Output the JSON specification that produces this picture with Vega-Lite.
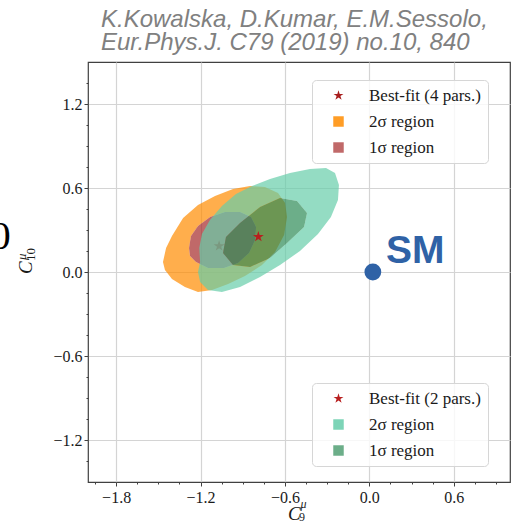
{
  "$schema": "https://vega.github.io/schema/vega-lite/v6.json",
  "width": 422,
  "height": 420,
  "autosize": {"type": "none"},
  "padding": {"left": 88, "top": 62, "right": 1, "bottom": 40},
  "config": {
    "view": {"stroke": "#404040", "strokeWidth": 1.2},
    "font": "Liberation Serif"
  },
  "title": {
    "text": ["K.Kowalska, D.Kumar, E.M.Sessolo,", "Eur.Phys.J. C79 (2019) no.10, 840"],
    "anchor": "start",
    "frame": "group",
    "dx": 13,
    "offset": 7,
    "font": "Liberation Sans",
    "fontStyle": "italic",
    "fontWeight": "normal",
    "fontSize": 24,
    "lineHeight": 23,
    "color": "#808080"
  },
  "datasets": {
    "poly": [
      {"p":"o2","i":0,"x":-1.467,"y":0.071},{"p":"o2","i":1,"x":-1.445,"y":0.171},{"p":"o2","i":2,"x":-1.403,"y":0.257},{"p":"o2","i":3,"x":-1.324,"y":0.386},{"p":"o2","i":4,"x":-1.218,"y":0.479},{"p":"o2","i":5,"x":-1.097,"y":0.543},{"p":"o2","i":6,"x":-0.969,"y":0.593},{"p":"o2","i":7,"x":-0.848,"y":0.614},{"p":"o2","i":8,"x":-0.742,"y":0.607},{"p":"o2","i":9,"x":-0.649,"y":0.564},{"p":"o2","i":10,"x":-0.599,"y":0.493},{"p":"o2","i":11,"x":-0.585,"y":0.393},{"p":"o2","i":12,"x":-0.606,"y":0.264},{"p":"o2","i":13,"x":-0.670,"y":0.143},{"p":"o2","i":14,"x":-0.763,"y":0.05},{"p":"o2","i":15,"x":-0.884,"y":-0.029},{"p":"o2","i":16,"x":-1.004,"y":-0.086},{"p":"o2","i":17,"x":-1.118,"y":-0.129},{"p":"o2","i":18,"x":-1.218,"y":-0.143},{"p":"o2","i":19,"x":-1.311,"y":-0.107},{"p":"o2","i":20,"x":-1.403,"y":-0.05},{"p":"o2","i":21,"x":-1.453,"y":0.014},{"p":"o2","i":22,"x":-1.467,"y":0.071},
      {"p":"o2","i":23,"x":-1.282,"y":0.171},{"p":"o2","i":24,"x":-1.275,"y":0.114},{"p":"o2","i":25,"x":-1.232,"y":0.071},{"p":"o2","i":26,"x":-1.147,"y":0.029},{"p":"o2","i":27,"x":-1.033,"y":0.029},{"p":"o2","i":28,"x":-0.933,"y":0.064},{"p":"o2","i":29,"x":-0.855,"y":0.136},{"p":"o2","i":30,"x":-0.812,"y":0.229},{"p":"o2","i":31,"x":-0.805,"y":0.321},{"p":"o2","i":32,"x":-0.841,"y":0.393},{"p":"o2","i":33,"x":-0.919,"y":0.429},{"p":"o2","i":34,"x":-1.026,"y":0.429},{"p":"o2","i":35,"x":-1.132,"y":0.393},{"p":"o2","i":36,"x":-1.218,"y":0.329},{"p":"o2","i":37,"x":-1.268,"y":0.257},{"p":"o2","i":38,"x":-1.282,"y":0.171},{"p":"o2","i":39,"x":-1.467,"y":0.071},
      {"p":"r1","i":0,"x":-1.282,"y":0.171},{"p":"r1","i":1,"x":-1.268,"y":0.257},{"p":"r1","i":2,"x":-1.218,"y":0.329},{"p":"r1","i":3,"x":-1.132,"y":0.393},{"p":"r1","i":4,"x":-1.026,"y":0.429},{"p":"r1","i":5,"x":-0.919,"y":0.429},{"p":"r1","i":6,"x":-0.841,"y":0.393},{"p":"r1","i":7,"x":-0.805,"y":0.321},{"p":"r1","i":8,"x":-0.812,"y":0.229},{"p":"r1","i":9,"x":-0.855,"y":0.136},{"p":"r1","i":10,"x":-0.933,"y":0.064},{"p":"r1","i":11,"x":-1.033,"y":0.029},{"p":"r1","i":12,"x":-1.147,"y":0.029},{"p":"r1","i":13,"x":-1.232,"y":0.071},{"p":"r1","i":14,"x":-1.275,"y":0.114},
      {"p":"t2","i":0,"x":-1.203,"y":0.071},{"p":"t2","i":1,"x":-1.209,"y":0.171},{"p":"t2","i":2,"x":-1.190,"y":0.271},{"p":"t2","i":3,"x":-1.133,"y":0.371},{"p":"t2","i":4,"x":-1.048,"y":0.471},{"p":"t2","i":5,"x":-0.948,"y":0.557},{"p":"t2","i":6,"x":-0.834,"y":0.614},{"p":"t2","i":7,"x":-0.706,"y":0.664},{"p":"t2","i":8,"x":-0.564,"y":0.707},{"p":"t2","i":9,"x":-0.422,"y":0.736},{"p":"t2","i":10,"x":-0.308,"y":0.743},{"p":"t2","i":11,"x":-0.244,"y":0.707},{"p":"t2","i":12,"x":-0.216,"y":0.621},{"p":"t2","i":13,"x":-0.223,"y":0.514},{"p":"t2","i":14,"x":-0.273,"y":0.393},{"p":"t2","i":15,"x":-0.365,"y":0.271},{"p":"t2","i":16,"x":-0.493,"y":0.15},{"p":"t2","i":17,"x":-0.635,"y":0.05},{"p":"t2","i":18,"x":-0.777,"y":-0.036},{"p":"t2","i":19,"x":-0.919,"y":-0.107},{"p":"t2","i":20,"x":-1.048,"y":-0.143},{"p":"t2","i":21,"x":-1.147,"y":-0.129},{"p":"t2","i":22,"x":-1.203,"y":-0.071},{"p":"t2","i":23,"x":-1.218,"y":0},{"p":"t2","i":24,"x":-1.203,"y":0.071},
      {"p":"t2","i":25,"x":-1.040,"y":0.136},{"p":"t2","i":26,"x":-0.969,"y":0.05},{"p":"t2","i":27,"x":-0.848,"y":0.036},{"p":"t2","i":28,"x":-0.706,"y":0.1},{"p":"t2","i":29,"x":-0.585,"y":0.207},{"p":"t2","i":30,"x":-0.464,"y":0.321},{"p":"t2","i":31,"x":-0.443,"y":0.421},{"p":"t2","i":32,"x":-0.514,"y":0.507},{"p":"t2","i":33,"x":-0.635,"y":0.529},{"p":"t2","i":34,"x":-0.777,"y":0.464},{"p":"t2","i":35,"x":-0.919,"y":0.35},{"p":"t2","i":36,"x":-1.019,"y":0.25},{"p":"t2","i":37,"x":-1.040,"y":0.136},{"p":"t2","i":38,"x":-1.203,"y":0.071},
      {"p":"g1","i":0,"x":-1.040,"y":0.136},{"p":"g1","i":1,"x":-1.019,"y":0.25},{"p":"g1","i":2,"x":-0.919,"y":0.35},{"p":"g1","i":3,"x":-0.777,"y":0.464},{"p":"g1","i":4,"x":-0.635,"y":0.529},{"p":"g1","i":5,"x":-0.514,"y":0.507},{"p":"g1","i":6,"x":-0.443,"y":0.421},{"p":"g1","i":7,"x":-0.464,"y":0.321},{"p":"g1","i":8,"x":-0.585,"y":0.207},{"p":"g1","i":9,"x":-0.706,"y":0.1},{"p":"g1","i":10,"x":-0.848,"y":0.036},{"p":"g1","i":11,"x":-0.969,"y":0.05}
    ],
    "bf": [
      {"lab":"Best-fit (4 pars.)","x":-1.068,"y":0.186},
      {"lab":"Best-fit (2 pars.)","x":-0.789,"y":0.252}
    ]
  },
  "layer": [
    {
      "data": {"name": "poly"},
      "transform": [{"filter": "datum.p === 'o2'"}],
      "mark": {"type": "line", "filled": true, "color": "#ff8c00", "opacity": 0.7, "strokeWidth": 0},
      "encoding": {
        "x": {"field": "x", "type": "quantitative", "scale": {"domain": [-2, 1], "nice": false, "zero": false},
          "axis": {"orient": "bottom", "values": [-1.8, -1.2, -0.6, 0, 0.6], "format": ".1f", "title": null, "grid": true, "gridColor": "#d4d4d4", "gridWidth": 1.2, "domain": false, "tickSize": 4, "tickColor": "#404040", "tickWidth": 1, "labelFont": "Liberation Serif", "labelFontSize": 16, "labelColor": "#1a1a1a", "labelPadding": 3}},
        "y": {"field": "y", "type": "quantitative", "scale": {"domain": [-1.5, 1.5], "nice": false, "zero": false},
          "axis": {"orient": "left", "values": [-1.2, -0.6, 0, 0.6, 1.2], "format": ".1f", "title": null, "grid": true, "gridColor": "#d4d4d4", "gridWidth": 1.2, "domain": false, "tickSize": 4, "tickColor": "#404040", "tickWidth": 1, "labelFont": "Liberation Serif", "labelFontSize": 16, "labelColor": "#1a1a1a", "labelPadding": 2}},
        "order": {"field": "i", "type": "quantitative"}
      }
    },
    {
      "data": {"name": "poly"},
      "transform": [{"filter": "datum.p === 'r1'"}],
      "mark": {"type": "line", "filled": true, "color": "#a52a2a", "opacity": 0.7, "strokeWidth": 0},
      "encoding": {
        "x": {"field": "x", "type": "quantitative", "scale": {"domain": [-2, 1], "nice": false, "zero": false}, "axis": null},
        "y": {"field": "y", "type": "quantitative", "scale": {"domain": [-1.5, 1.5], "nice": false, "zero": false}, "axis": null},
        "order": {"field": "i", "type": "quantitative"}
      }
    },
    {
      "data": {"name": "bf"},
      "transform": [{"filter": "datum.lab === 'Best-fit (4 pars.)'"}],
      "mark": {"type": "point", "filled": true, "size": 130, "strokeWidth": 0},
      "encoding": {
        "x": {"field": "x", "type": "quantitative", "scale": {"domain": [-2, 1], "nice": false, "zero": false}, "axis": null},
        "y": {"field": "y", "type": "quantitative", "scale": {"domain": [-1.5, 1.5], "nice": false, "zero": false}, "axis": null},
        "color": {"field": "lab", "type": "nominal",
          "scale": {"domain": ["Best-fit (4 pars.)", "2σ region", "1σ region"], "range": ["#a81e1e", "#ff8c00", "#a52a2a"]},
          "legend": {"title": null, "orient": "none", "legendX": 224, "legendY": 18, "fillColor": "rgba(255,255,255,0.8)", "strokeColor": "#d6d6d6", "cornerRadius": 4, "padding": 7, "labelFont": "Liberation Serif", "labelFontSize": 17, "labelColor": "#1a1a1a", "symbolSize": 110, "rowPadding": 8, "labelOffset": 22, "symbolOffset": 11, "symbolStrokeWidth": 0}},
        "shape": {"field": "lab", "type": "nominal",
          "scale": {"domain": ["Best-fit (4 pars.)", "2σ region", "1σ region"], "range": ["M0,-1L0.2245,-0.309L0.9511,-0.309L0.3633,0.118L0.5878,0.809L0,0.382L-0.5878,0.809L-0.3633,0.118L-0.9511,-0.309L-0.2245,-0.309Z", "square", "square"]},
          "legend": {"title": null, "orient": "none", "legendX": 224, "legendY": 18, "fillColor": "rgba(255,255,255,0.8)", "strokeColor": "#d6d6d6", "cornerRadius": 4, "padding": 7, "labelFont": "Liberation Serif", "labelFontSize": 17, "labelColor": "#1a1a1a", "symbolSize": 110, "rowPadding": 8, "labelOffset": 22, "symbolOffset": 11, "symbolStrokeWidth": 0}},
        "opacity": {"field": "lab", "type": "nominal",
          "scale": {"domain": ["Best-fit (4 pars.)", "2σ region", "1σ region"], "range": [1, 0.7, 0.7]},
          "legend": {"title": null, "orient": "none", "legendX": 224, "legendY": 18, "fillColor": "rgba(255,255,255,0.8)", "strokeColor": "#d6d6d6", "cornerRadius": 4, "padding": 7, "labelFont": "Liberation Serif", "labelFontSize": 17, "labelColor": "#1a1a1a", "symbolSize": 110, "rowPadding": 8, "labelOffset": 22, "symbolOffset": 11, "symbolStrokeWidth": 0}}
      }
    },
    {
      "data": {"name": "poly"},
      "transform": [{"filter": "datum.p === 't2'"}],
      "mark": {"type": "line", "filled": true, "color": "#66cdaa", "opacity": 0.7, "strokeWidth": 0},
      "encoding": {
        "x": {"field": "x", "type": "quantitative", "scale": {"domain": [-2, 1], "nice": false, "zero": false}, "axis": null},
        "y": {"field": "y", "type": "quantitative", "scale": {"domain": [-1.5, 1.5], "nice": false, "zero": false}, "axis": null},
        "order": {"field": "i", "type": "quantitative"}
      }
    },
    {
      "data": {"name": "poly"},
      "transform": [{"filter": "datum.p === 'g1'"}],
      "mark": {"type": "line", "filled": true, "color": "#2e8b57", "opacity": 0.7, "strokeWidth": 0},
      "encoding": {
        "x": {"field": "x", "type": "quantitative", "scale": {"domain": [-2, 1], "nice": false, "zero": false}, "axis": null},
        "y": {"field": "y", "type": "quantitative", "scale": {"domain": [-1.5, 1.5], "nice": false, "zero": false}, "axis": null},
        "order": {"field": "i", "type": "quantitative"}
      }
    },
    {
      "data": {"name": "bf"},
      "transform": [{"filter": "datum.lab === 'Best-fit (2 pars.)'"}],
      "mark": {"type": "point", "filled": true, "size": 130, "strokeWidth": 0},
      "encoding": {
        "x": {"field": "x", "type": "quantitative", "scale": {"domain": [-2, 1], "nice": false, "zero": false}, "axis": null},
        "y": {"field": "y", "type": "quantitative", "scale": {"domain": [-1.5, 1.5], "nice": false, "zero": false}, "axis": null},
        "color": {"field": "lab", "type": "nominal",
          "scale": {"domain": ["Best-fit (2 pars.)", "2σ region", "1σ region"], "range": ["#b81f1f", "#66cdaa", "#2e8b57"]},
          "legend": {"title": null, "orient": "none", "legendX": 224, "legendY": 321, "fillColor": "rgba(255,255,255,0.8)", "strokeColor": "#d6d6d6", "cornerRadius": 4, "padding": 7, "labelFont": "Liberation Serif", "labelFontSize": 17, "labelColor": "#1a1a1a", "symbolSize": 110, "rowPadding": 8, "labelOffset": 22, "symbolOffset": 11, "symbolStrokeWidth": 0}},
        "shape": {"field": "lab", "type": "nominal",
          "scale": {"domain": ["Best-fit (2 pars.)", "2σ region", "1σ region"], "range": ["M0,-1L0.2245,-0.309L0.9511,-0.309L0.3633,0.118L0.5878,0.809L0,0.382L-0.5878,0.809L-0.3633,0.118L-0.9511,-0.309L-0.2245,-0.309Z", "square", "square"]},
          "legend": {"title": null, "orient": "none", "legendX": 224, "legendY": 321, "fillColor": "rgba(255,255,255,0.8)", "strokeColor": "#d6d6d6", "cornerRadius": 4, "padding": 7, "labelFont": "Liberation Serif", "labelFontSize": 17, "labelColor": "#1a1a1a", "symbolSize": 110, "rowPadding": 8, "labelOffset": 22, "symbolOffset": 11, "symbolStrokeWidth": 0}},
        "opacity": {"field": "lab", "type": "nominal",
          "scale": {"domain": ["Best-fit (2 pars.)", "2σ region", "1σ region"], "range": [1, 0.7, 0.7]},
          "legend": {"title": null, "orient": "none", "legendX": 224, "legendY": 321, "fillColor": "rgba(255,255,255,0.8)", "strokeColor": "#d6d6d6", "cornerRadius": 4, "padding": 7, "labelFont": "Liberation Serif", "labelFontSize": 17, "labelColor": "#1a1a1a", "symbolSize": 110, "rowPadding": 8, "labelOffset": 22, "symbolOffset": 11, "symbolStrokeWidth": 0}}
      }
    },
    {
      "data": {"values": [{"x": 0.025, "y": 0}]},
      "mark": {"type": "point", "filled": true, "size": 283, "color": "#2f62a6", "opacity": 1, "strokeWidth": 0},
      "encoding": {
        "x": {"field": "x", "type": "quantitative", "scale": {"domain": [-2, 1], "nice": false, "zero": false},
          "axis": {"orient": "bottom", "values": [-1.95, -1.8, -1.65, -1.5, -1.35, -1.2, -1.05, -0.9, -0.75, -0.6, -0.45, -0.3, -0.15, 0, 0.15, 0.3, 0.45, 0.6, 0.75, 0.9], "labels": false, "grid": false, "domain": false, "tickSize": 2, "tickColor": "#404040", "tickWidth": 1, "title": null}},
        "y": {"field": "y", "type": "quantitative", "scale": {"domain": [-1.5, 1.5], "nice": false, "zero": false},
          "axis": {"orient": "left", "values": [-1.35, -1.2, -1.05, -0.9, -0.75, -0.6, -0.45, -0.3, -0.15, 0, 0.15, 0.3, 0.45, 0.6, 0.75, 0.9, 1.05, 1.2, 1.35], "labels": false, "grid": false, "domain": false, "tickSize": 2, "tickColor": "#404040", "tickWidth": 1, "title": null}}
      }
    },
    {
      "data": {"values": [{"x": 0.118, "y": 0.064, "t": "SM"}]},
      "mark": {"type": "text", "align": "left", "baseline": "alphabetic", "font": "Liberation Sans", "fontWeight": "bold", "fontSize": 39, "color": "#2f62a6"},
      "encoding": {
        "x": {"field": "x", "type": "quantitative", "scale": {"domain": [-2, 1], "nice": false, "zero": false}, "axis": null},
        "y": {"field": "y", "type": "quantitative", "scale": {"domain": [-1.5, 1.5], "nice": false, "zero": false}, "axis": null},
        "text": {"field": "t"}
      }
    },
    {
      "data": {"values": [{"x": -0.578, "y": -1.771, "t": "C"}]},
      "mark": {"type": "text", "align": "left", "baseline": "alphabetic", "font": "Liberation Serif", "fontStyle": "italic", "fontSize": 19, "color": "#1a1a1a"},
      "encoding": {
        "x": {"field": "x", "type": "quantitative", "scale": {"domain": [-2, 1], "nice": false, "zero": false}, "axis": null},
        "y": {"field": "y", "type": "quantitative", "scale": {"domain": [-1.5, 1.5], "nice": false, "zero": false}, "axis": null},
        "text": {"field": "t"}
      }
    },
    {
      "data": {"values": [{"x": -0.49, "y": -1.686, "t": "μ"}]},
      "mark": {"type": "text", "align": "left", "baseline": "alphabetic", "font": "Liberation Serif", "fontStyle": "italic", "fontSize": 12, "color": "#1a1a1a"},
      "encoding": {
        "x": {"field": "x", "type": "quantitative", "scale": {"domain": [-2, 1], "nice": false, "zero": false}, "axis": null},
        "y": {"field": "y", "type": "quantitative", "scale": {"domain": [-1.5, 1.5], "nice": false, "zero": false}, "axis": null},
        "text": {"field": "t"}
      }
    },
    {
      "data": {"values": [{"x": -0.5, "y": -1.775, "t": "9"}]},
      "mark": {"type": "text", "align": "left", "baseline": "alphabetic", "font": "Liberation Serif", "fontSize": 12, "color": "#1a1a1a"},
      "encoding": {
        "x": {"field": "x", "type": "quantitative", "scale": {"domain": [-2, 1], "nice": false, "zero": false}, "axis": null},
        "y": {"field": "y", "type": "quantitative", "scale": {"domain": [-1.5, 1.5], "nice": false, "zero": false}, "axis": null},
        "text": {"field": "t"}
      }
    },
    {
      "data": {"values": [{"x": -2.398, "y": -0.014, "t": "C"}]},
      "mark": {"type": "text", "align": "left", "baseline": "alphabetic", "angle": 270, "font": "Liberation Serif", "fontStyle": "italic", "fontSize": 19, "color": "#1a1a1a"},
      "encoding": {
        "x": {"field": "x", "type": "quantitative", "scale": {"domain": [-2, 1], "nice": false, "zero": false}, "axis": null},
        "y": {"field": "y", "type": "quantitative", "scale": {"domain": [-1.5, 1.5], "nice": false, "zero": false}, "axis": null},
        "text": {"field": "t"}
      }
    },
    {
      "data": {"values": [{"x": -2.377, "y": 0.079, "t": "10"}]},
      "mark": {"type": "text", "align": "left", "baseline": "alphabetic", "angle": 270, "font": "Liberation Serif", "fontSize": 13, "color": "#1a1a1a"},
      "encoding": {
        "x": {"field": "x", "type": "quantitative", "scale": {"domain": [-2, 1], "nice": false, "zero": false}, "axis": null},
        "y": {"field": "y", "type": "quantitative", "scale": {"domain": [-1.5, 1.5], "nice": false, "zero": false}, "axis": null},
        "text": {"field": "t"}
      }
    },
    {
      "data": {"values": [{"x": -2.441, "y": 0.086, "t": "μ"}]},
      "mark": {"type": "text", "align": "left", "baseline": "alphabetic", "angle": 270, "font": "Liberation Serif", "fontStyle": "italic", "fontSize": 13, "color": "#1a1a1a"},
      "encoding": {
        "x": {"field": "x", "type": "quantitative", "scale": {"domain": [-2, 1], "nice": false, "zero": false}, "axis": null},
        "y": {"field": "y", "type": "quantitative", "scale": {"domain": [-1.5, 1.5], "nice": false, "zero": false}, "axis": null},
        "text": {"field": "t"}
      }
    },
    {
      "data": {"values": [{"x": -2.55, "y": 0.162, "t": "0"}]},
      "mark": {"type": "text", "align": "right", "baseline": "alphabetic", "font": "Liberation Serif", "fontSize": 41, "color": "#000000"},
      "encoding": {
        "x": {"field": "x", "type": "quantitative", "scale": {"domain": [-2, 1], "nice": false, "zero": false}, "axis": null},
        "y": {"field": "y", "type": "quantitative", "scale": {"domain": [-1.5, 1.5], "nice": false, "zero": false}, "axis": null},
        "text": {"field": "t"}
      }
    }
  ],
  "resolve": {
    "scale": {"color": "independent", "shape": "independent", "opacity": "independent"},
    "axis": {"x": "independent", "y": "independent"}
  }
}
